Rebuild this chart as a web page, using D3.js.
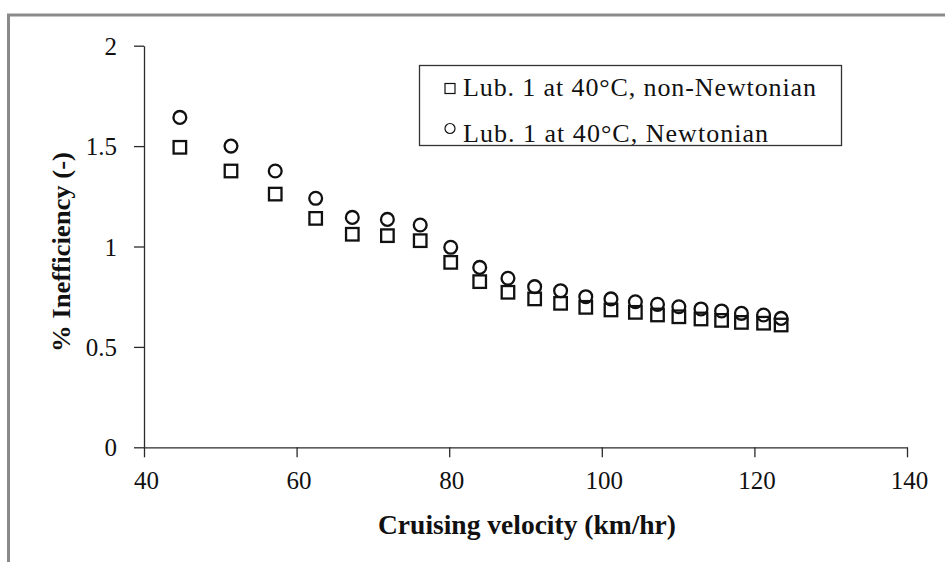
<!DOCTYPE html>
<html>
<head>
<meta charset="utf-8">
<script src="https://cdn.jsdelivr.net/npm/d3@7"></script>
<style>
    body { margin: 0; background: white; }
    svg { display: block; }
</style>
</head>
<body>
<svg id="chart" width="945" height="562"></svg>
<script>
// # Data

var velocity = [44.7, 51.4, 57.2, 62.5, 67.3, 71.9, 76.2, 80.2, 84.0, 87.7, 91.2,
                94.6, 97.9, 101.2, 104.4, 107.3, 110.1, 113.0, 115.7, 118.3, 121.2, 123.5];
var nonNewtonian = [1.494, 1.376, 1.261, 1.140, 1.061, 1.054, 1.029, 0.921, 0.825, 0.772, 0.739,
                    0.717, 0.697, 0.684, 0.672, 0.659, 0.650, 0.639, 0.632, 0.622, 0.618, 0.609];
var newtonian = [1.643, 1.500, 1.376, 1.240, 1.145, 1.135, 1.107, 0.996, 0.896, 0.842, 0.800,
                 0.780, 0.750, 0.739, 0.725, 0.712, 0.700, 0.689, 0.679, 0.667, 0.659, 0.642];

var xTicks = [40, 60, 80, 100, 120, 140];
var yTicks = [0, 0.5, 1, 1.5, 2];
var seriesNames = ['Lub. 1 at 40\u00B0C, non-Newtonian', 'Lub. 1 at 40\u00B0C, Newtonian'];

var serif = "'Liberation Serif', 'Times New Roman', serif";
var ink = '#111';

var svg = d3.select('#chart');

// outer frame (cut off at right and bottom like the screenshot)
svg.append('rect')
    .attr('x', 8.5)
    .attr('y', 15)
    .attr('width', 1000)
    .attr('height', 600)
    .attr('fill', 'white')
    .attr('stroke', '#8a8a8a')
    .attr('stroke-width', 3);

var x = d3.scaleLinear().domain([40, 140]).range([144, 907]);
var y = d3.scaleLinear().domain([0, 2]).range([447.3, 45.7]);

// # Axes

var xAxis = svg.append('g')
    .attr('transform', 'translate(0,' + y(0) + ')')
    .call(d3.axisBottom(x).tickValues(xTicks).tickSize(10).tickSizeOuter(0).tickFormat(d3.format('d')));

var yAxis = svg.append('g')
    .attr('transform', 'translate(' + x(40) + ',0)')
    .call(d3.axisLeft(y).tickValues(yTicks).tickSize(10).tickSizeOuter(0).tickFormat(d => d));

[xAxis, yAxis].forEach(function(ax){
    ax.select('.domain').attr('stroke', '#2a2a2a').attr('stroke-width', 1.3);
    ax.selectAll('.tick line').attr('stroke', '#2a2a2a').attr('stroke-width', 1.3);
    ax.selectAll('.tick text')
        .attr('fill', ink)
        .style('font-family', serif)
        .style('font-size', '25px');
});

xAxis.selectAll('.tick text')
    .attr('dy', null)
    .attr('y', 42)
    .attr('x', 2);

yAxis.selectAll('.tick text')
    .attr('x', -27)
    .attr('dy', '0.34em');

// axis titles
svg.append('text')
    .attr('x', 527)
    .attr('y', 534)
    .attr('text-anchor', 'middle')
    .attr('textLength', 298)
    .attr('lengthAdjust', 'spacingAndGlyphs')
    .style('font-family', serif)
    .style('font-weight', 'bold')
    .style('font-size', '27px')
    .attr('fill', ink)
    .text('Cruising velocity (km/hr)');

svg.append('text')
    .attr('transform', 'translate(70,252) rotate(-90)')
    .attr('text-anchor', 'middle')
    .attr('textLength', 200)
    .attr('lengthAdjust', 'spacingAndGlyphs')
    .style('font-family', serif)
    .style('font-weight', 'bold')
    .style('font-size', '26px')
    .attr('fill', ink)
    .text('% Inefficiency (-)');

// # Markers

var squareSide = 12.5;

svg.append('g').selectAll('rect')
    .data(velocity)
    .join('rect')
    .attr('x', d => x(d) - squareSide / 2)
    .attr('y', (d, i) => y(nonNewtonian[i]) - squareSide / 2)
    .attr('width', squareSide)
    .attr('height', squareSide)
    .attr('fill', 'none')
    .attr('stroke', ink)
    .attr('stroke-width', 2.3);

svg.append('g').selectAll('circle')
    .data(velocity)
    .join('circle')
    .attr('cx', d => x(d))
    .attr('cy', (d, i) => y(newtonian[i]))
    .attr('r', 6.4)
    .attr('fill', 'none')
    .attr('stroke', ink)
    .attr('stroke-width', 2.3);

// # Legend

var legend = svg.append('g');

legend.append('rect')
    .attr('x', 419.5)
    .attr('y', 65.5)
    .attr('width', 422)
    .attr('height', 80)
    .attr('fill', 'white')
    .attr('stroke', '#333')
    .attr('stroke-width', 1.3);

legend.append('rect')
    .attr('x', 445)
    .attr('y', 83.5)
    .attr('width', 10)
    .attr('height', 10)
    .attr('fill', 'none')
    .attr('stroke', ink)
    .attr('stroke-width', 1.2);

legend.append('circle')
    .attr('cx', 450)
    .attr('cy', 128.5)
    .attr('r', 5)
    .attr('fill', 'none')
    .attr('stroke', ink)
    .attr('stroke-width', 1.2);

var legendWidths = [353, 305];

legend.selectAll('text')
    .data(seriesNames)
    .join('text')
    .attr('x', 463)
    .attr('y', (d, i) => 96 + i * 45.5)
    .attr('textLength', (d, i) => legendWidths[i])
    .attr('lengthAdjust', 'spacing')
    .style('font-family', serif)
    .style('font-size', '26px')
    .attr('fill', ink)
    .text(d => d);
</script>
</body>
</html>
